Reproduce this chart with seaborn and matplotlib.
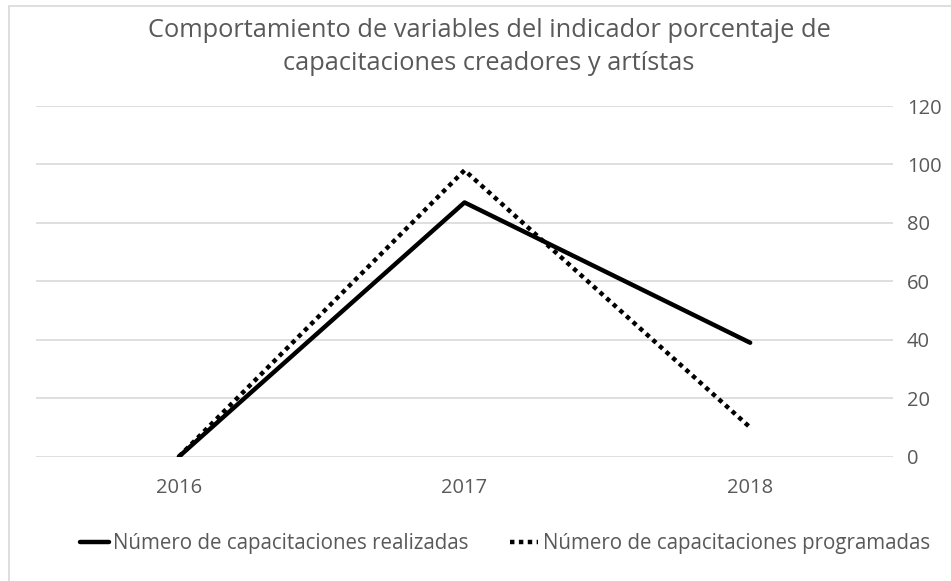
import numpy as np
import pandas as pd
import matplotlib
matplotlib.use("Agg")
import matplotlib.pyplot as plt
import seaborn as sns
from matplotlib.patches import Rectangle

years = ['2016', '2017', '2018']
realizadas = [0, 87, 39]
programadas = [0, 98, 10]
label_real = 'Número de capacitaciones realizadas'
label_prog = 'Número de capacitaciones programadas'
title = 'Comportamiento de variables del indicador porcentaje de\ncapacitaciones creadores y artístas'
yticks = [0, 20, 40, 60, 80, 100, 120]

df = pd.DataFrame({
    'year': years * 2,
    'value': realizadas + programadas,
    'serie': [label_real] * 3 + [label_prog] * 3,
})

sns.set_style('white')
plt.rcParams['font.family'] = ['Open Sans', 'DejaVu Sans']
gray = '#595959'

fig = plt.figure(figsize=(9.51, 5.81), dpi=100)
ax = fig.add_axes([36 / 951, 1 - 456.7 / 581, (893 - 36) / 951, (456.7 - 106.0) / 581])

sns.lineplot(data=df, x='year', y='value', hue='serie', style='serie',
             palette={label_real: 'black', label_prog: 'black'},
             dashes={label_real: '', label_prog: (1.0, 1.0)},
             linewidth=3.2, ax=ax, legend=False)

ax.set_xlim(-0.5, 2.5)
ax.set_ylim(0, 120)
ax.set_yticks(yticks)
ax.yaxis.tick_right()
ax.grid(axis='y', color='#d9d9d9', linewidth=1.2)
ax.grid(axis='x', visible=False)
for s in ax.spines.values():
    s.set_visible(False)
ax.tick_params(axis='both', length=0, labelsize=14.5, colors=gray)
ax.tick_params(axis='x', pad=15)
ax.tick_params(axis='y', pad=10)
ax.set_xlabel('')
ax.set_ylabel('')

fig.text(489 / 951, 1 - 47 / 581, title, ha='center', va='center',
         fontsize=18.3, color=gray, linespacing=1.42)

h1 = plt.Line2D([], [], color='black', linewidth=3.2)
h2 = plt.Line2D([], [], color='black', linewidth=3.2, linestyle=(0, (1.0, 1.0)))
fig.legend([h1, h2], [label_real, label_prog], loc='center',
           bbox_to_anchor=(505 / 951, 1 - 544 / 581), ncol=2, frameon=False,
           fontsize=14.8, labelcolor=gray, handlelength=1.4, handletextpad=0.2,
           columnspacing=2.0)

fig.patches.append(Rectangle((9 / 951, -0.05), 1.2, 1.05 - 6 / 581,
                             transform=fig.transFigure, fill=False,
                             edgecolor='#d9d9d9', linewidth=1.2))

fig.savefig('out.png', dpi=100, facecolor='white')
